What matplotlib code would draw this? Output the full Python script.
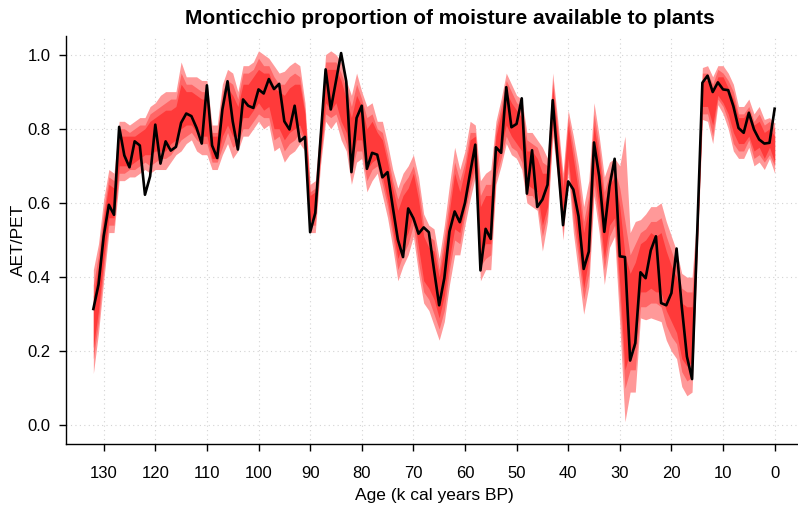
import numpy as np
import matplotlib
matplotlib.use("Agg")
import matplotlib.pyplot as plt

plt.rcParams['font.family'] = ['Liberation Sans', 'DejaVu Sans']

# ages in k cal years BP, oldest first
age = np.arange(132, -1, -1)

# reconstructed AET/PET
aet_pet = [
    0.314, 0.380, 0.510, 0.595, 0.568, 0.805, 0.728, 0.696, 0.766, 0.755,
    0.622, 0.672, 0.811, 0.706, 0.766, 0.741, 0.751, 0.816, 0.841, 0.834,
    0.802, 0.760, 0.917, 0.755, 0.721, 0.852, 0.928, 0.820, 0.744, 0.879,
    0.862, 0.856, 0.906, 0.895, 0.934, 0.907, 0.921, 0.820, 0.798, 0.862,
    0.766, 0.778, 0.521, 0.573, 0.770, 0.960, 0.852, 0.928, 1.004, 0.928,
    0.683, 0.829, 0.862, 0.692, 0.735, 0.730, 0.669, 0.683, 0.590, 0.501,
    0.454, 0.585, 0.559, 0.517, 0.534, 0.521, 0.420, 0.324, 0.397, 0.523,
    0.577, 0.548, 0.600, 0.681, 0.757, 0.418, 0.530, 0.503, 0.750, 0.735,
    0.912, 0.804, 0.813, 0.882, 0.625, 0.742, 0.589, 0.609, 0.649, 0.877,
    0.708, 0.540, 0.658, 0.636, 0.564, 0.422, 0.469, 0.763, 0.672, 0.522,
    0.645, 0.719, 0.456, 0.454, 0.175, 0.222, 0.413, 0.397, 0.472, 0.510,
    0.330, 0.324, 0.357, 0.477, 0.321, 0.186, 0.125, 0.520, 0.924, 0.943,
    0.899, 0.925, 0.906, 0.904, 0.861, 0.802, 0.789, 0.843, 0.798, 0.771,
    0.760, 0.762, 0.854,
]

# outer uncertainty envelope
lo_outer = [
    0.14, 0.25, 0.39, 0.52, 0.52, 0.66, 0.66, 0.67, 0.67, 0.68,
    0.69, 0.68, 0.69, 0.69, 0.69, 0.71, 0.73, 0.74, 0.76, 0.77,
    0.74, 0.73, 0.73, 0.69, 0.69, 0.73, 0.76, 0.72, 0.74, 0.78,
    0.78, 0.80, 0.82, 0.80, 0.81, 0.74, 0.75, 0.71, 0.73, 0.74,
    0.76, 0.74, 0.52, 0.52, 0.70, 0.82, 0.80, 0.82, 0.77, 0.74,
    0.65, 0.71, 0.72, 0.63, 0.66, 0.68, 0.62, 0.56, 0.48, 0.39,
    0.43, 0.46, 0.51, 0.41, 0.33, 0.31, 0.27, 0.23, 0.28, 0.38,
    0.46, 0.46, 0.54, 0.61, 0.67, 0.39, 0.42, 0.42, 0.65, 0.70,
    0.76, 0.73, 0.72, 0.69, 0.60, 0.59, 0.58, 0.47, 0.55, 0.78,
    0.66, 0.50, 0.68, 0.52, 0.41, 0.30, 0.375, 0.62, 0.52, 0.38,
    0.48, 0.51, 0.27, 0.01, 0.09, 0.09, 0.29, 0.285, 0.29, 0.285,
    0.28, 0.23, 0.20, 0.18, 0.105, 0.08, 0.09, 0.46, 0.825, 0.82,
    0.76, 0.865, 0.84, 0.80, 0.74, 0.72, 0.72, 0.75, 0.70, 0.71,
    0.69, 0.72, 0.68,
]
hi_outer = [
    0.42, 0.49, 0.61, 0.69, 0.68, 0.82, 0.82, 0.81, 0.82, 0.83,
    0.83, 0.86, 0.87, 0.89, 0.90, 0.90, 0.90, 0.98, 0.94, 0.94,
    0.94, 0.93, 0.93, 0.81, 0.81, 0.92, 0.96, 0.95, 0.90, 0.97,
    0.97, 0.98, 1.01, 1.00, 0.99, 0.97, 0.95, 0.955, 0.97, 0.98,
    0.97, 0.87, 0.65, 0.66, 0.82, 1.00, 1.01, 1.00, 0.98, 0.93,
    0.89, 0.95, 0.90, 0.86, 0.87, 0.82, 0.82, 0.76, 0.69, 0.64,
    0.68, 0.70, 0.73, 0.67, 0.57, 0.54, 0.53, 0.45, 0.54, 0.65,
    0.75, 0.69, 0.74, 0.82, 0.81, 0.66, 0.68, 0.69, 0.82, 0.88,
    0.95, 0.92, 0.89, 0.88, 0.79, 0.79, 0.77, 0.75, 0.72, 0.95,
    0.82, 0.68, 0.85, 0.78, 0.70, 0.59, 0.66, 0.87, 0.78, 0.67,
    0.71, 0.72, 0.70, 0.78, 0.52, 0.55, 0.555, 0.57, 0.59, 0.59,
    0.60, 0.55, 0.51, 0.47, 0.41, 0.40, 0.40, 0.58, 0.965, 0.97,
    0.94, 0.97, 0.97, 0.95, 0.92, 0.86, 0.86, 0.88, 0.84, 0.86,
    0.825, 0.83, 0.815,
]

# middle envelope
lo_mid = [
    0.18, 0.28, 0.42, 0.54, 0.54, 0.68, 0.68, 0.69, 0.69, 0.70,
    0.71, 0.70, 0.71, 0.72, 0.72, 0.73, 0.75, 0.77, 0.78, 0.79,
    0.77, 0.76, 0.76, 0.71, 0.71, 0.75, 0.79, 0.75, 0.76, 0.80,
    0.80, 0.82, 0.84, 0.83, 0.83, 0.77, 0.78, 0.74, 0.76, 0.77,
    0.79, 0.76, 0.54, 0.54, 0.72, 0.84, 0.83, 0.84, 0.80, 0.76,
    0.68, 0.74, 0.74, 0.66, 0.69, 0.70, 0.65, 0.59, 0.51, 0.42,
    0.46, 0.49, 0.54, 0.44, 0.36, 0.34, 0.30, 0.26, 0.31, 0.42,
    0.50, 0.49, 0.57, 0.64, 0.69, 0.43, 0.45, 0.46, 0.67, 0.72,
    0.78, 0.75, 0.74, 0.71, 0.62, 0.62, 0.60, 0.51, 0.57, 0.80,
    0.68, 0.52, 0.70, 0.55, 0.45, 0.34, 0.41, 0.65, 0.55, 0.42,
    0.51, 0.54, 0.33, 0.10, 0.15, 0.15, 0.32, 0.32, 0.33, 0.33,
    0.32, 0.27, 0.24, 0.22, 0.145, 0.12, 0.13, 0.48, 0.84, 0.84,
    0.78, 0.88, 0.86, 0.82, 0.76, 0.74, 0.74, 0.77, 0.72, 0.73,
    0.71, 0.73, 0.70,
]
hi_mid = [
    0.38, 0.46, 0.58, 0.67, 0.66, 0.80, 0.80, 0.79, 0.80, 0.81,
    0.81, 0.84, 0.85, 0.86, 0.87, 0.88, 0.88, 0.95, 0.92, 0.92,
    0.91, 0.90, 0.90, 0.79, 0.79, 0.90, 0.93, 0.92, 0.88, 0.95,
    0.95, 0.96, 0.99, 0.97, 0.97, 0.94, 0.92, 0.92, 0.94, 0.95,
    0.94, 0.85, 0.63, 0.64, 0.80, 0.98, 0.98, 0.98, 0.95, 0.91,
    0.86, 0.92, 0.88, 0.83, 0.84, 0.80, 0.79, 0.73, 0.66, 0.61,
    0.65, 0.67, 0.70, 0.64, 0.54, 0.51, 0.50, 0.42, 0.51, 0.61,
    0.71, 0.66, 0.71, 0.79, 0.79, 0.62, 0.65, 0.65, 0.80, 0.86,
    0.93, 0.90, 0.87, 0.86, 0.77, 0.76, 0.75, 0.71, 0.70, 0.93,
    0.80, 0.66, 0.83, 0.75, 0.66, 0.55, 0.62, 0.84, 0.75, 0.63,
    0.68, 0.69, 0.64, 0.55, 0.46, 0.49, 0.52, 0.53, 0.55, 0.55,
    0.56, 0.51, 0.47, 0.43, 0.37, 0.36, 0.36, 0.56, 0.95, 0.95,
    0.92, 0.96, 0.95, 0.93, 0.90, 0.84, 0.84, 0.86, 0.82, 0.84,
    0.81, 0.82, 0.80,
]

# inner envelope
lo_inner = [
    0.21, 0.31, 0.45, 0.56, 0.56, 0.70, 0.70, 0.70, 0.71, 0.72,
    0.73, 0.73, 0.74, 0.74, 0.74, 0.76, 0.77, 0.80, 0.81, 0.81,
    0.79, 0.78, 0.78, 0.72, 0.72, 0.78, 0.81, 0.78, 0.78, 0.83,
    0.83, 0.85, 0.87, 0.85, 0.86, 0.80, 0.80, 0.77, 0.79, 0.80,
    0.81, 0.77, 0.55, 0.56, 0.73, 0.87, 0.85, 0.87, 0.82, 0.79,
    0.71, 0.77, 0.77, 0.69, 0.71, 0.72, 0.67, 0.61, 0.53, 0.45,
    0.49, 0.52, 0.57, 0.48, 0.39, 0.37, 0.34, 0.29, 0.35, 0.45,
    0.53, 0.52, 0.59, 0.66, 0.71, 0.46, 0.49, 0.49, 0.69, 0.75,
    0.81, 0.78, 0.76, 0.74, 0.65, 0.64, 0.63, 0.54, 0.59, 0.82,
    0.70, 0.55, 0.72, 0.59, 0.48, 0.37, 0.45, 0.68, 0.59, 0.45,
    0.54, 0.56, 0.38, 0.15, 0.20, 0.21, 0.36, 0.36, 0.37, 0.36,
    0.36, 0.31, 0.28, 0.25, 0.18, 0.16, 0.17, 0.49, 0.86, 0.86,
    0.81, 0.89, 0.87, 0.84, 0.79, 0.76, 0.76, 0.78, 0.74, 0.75,
    0.72, 0.75, 0.71,
]
hi_inner = [
    0.35, 0.43, 0.56, 0.65, 0.64, 0.78, 0.78, 0.78, 0.78, 0.79,
    0.80, 0.82, 0.83, 0.84, 0.85, 0.85, 0.86, 0.92, 0.90, 0.90,
    0.89, 0.88, 0.88, 0.78, 0.78, 0.87, 0.91, 0.89, 0.86, 0.92,
    0.92, 0.94, 0.96, 0.95, 0.95, 0.91, 0.90, 0.89, 0.91, 0.92,
    0.92, 0.84, 0.62, 0.63, 0.79, 0.96, 0.96, 0.96, 0.93, 0.88,
    0.83, 0.89, 0.86, 0.80, 0.82, 0.79, 0.77, 0.71, 0.64, 0.58,
    0.62, 0.64, 0.68, 0.61, 0.51, 0.48, 0.47, 0.40, 0.48, 0.58,
    0.68, 0.63, 0.69, 0.77, 0.78, 0.59, 0.62, 0.62, 0.78, 0.84,
    0.90, 0.87, 0.85, 0.83, 0.74, 0.74, 0.72, 0.68, 0.68, 0.91,
    0.78, 0.64, 0.81, 0.72, 0.63, 0.52, 0.59, 0.81, 0.72, 0.60,
    0.65, 0.67, 0.59, 0.46, 0.41, 0.44, 0.49, 0.50, 0.52, 0.51,
    0.52, 0.47, 0.43, 0.40, 0.33, 0.32, 0.32, 0.55, 0.93, 0.93,
    0.90, 0.94, 0.94, 0.91, 0.88, 0.83, 0.83, 0.85, 0.81, 0.82,
    0.79, 0.80, 0.78,
]

xticks = list(range(130, -1, -10))
yticks = [0.0, 0.2, 0.4, 0.6, 0.8, 1.0]

fig = plt.figure(figsize=(7.98, 5.05), dpi=100)
ax = fig.add_axes([66 / 798, 61 / 505, 736 / 798, 408 / 505])

ax.fill_between(age, lo_outer, hi_outer, color='#ff9999', lw=0)
ax.fill_between(age, lo_mid, hi_mid, color='#ff6666', lw=0)
ax.fill_between(age, lo_inner, hi_inner, color='#ff3a3a', lw=0)
ax.plot(age, aet_pet, color='black', lw=1.9)

ax.set_xlim(137.3, -5.3)
ax.set_ylim(-0.05, 1.05)
ax.set_xticks(xticks)
ax.set_yticks(yticks)
ax.set_yticklabels([f'{v:.1f}' for v in yticks])
ax.grid(True, color='#d3d3d3', linestyle=(0, (1, 3)), lw=0.8)
ax.set_axisbelow(True)

for s in ['top', 'right']:
    ax.spines[s].set_visible(False)
ax.spines['left'].set_linewidth(1.0)
ax.spines['bottom'].set_linewidth(1.0)
ax.tick_params(axis='both', labelsize=12, length=5, width=1.0)
ax.tick_params(axis='x', pad=11)
ax.tick_params(axis='y', pad=6)

ax.set_xlabel('Age (k cal years BP)', fontsize=12.5, labelpad=5)
ax.set_ylabel('AET/PET', fontsize=12.5, labelpad=1)
fig.text(449.5 / 798, 1 - 18 / 505,
         'Monticchio proportion of moisture available to plants',
         ha='center', va='center', fontsize=15, fontweight='bold')

fig.savefig('out.png', dpi=100)
